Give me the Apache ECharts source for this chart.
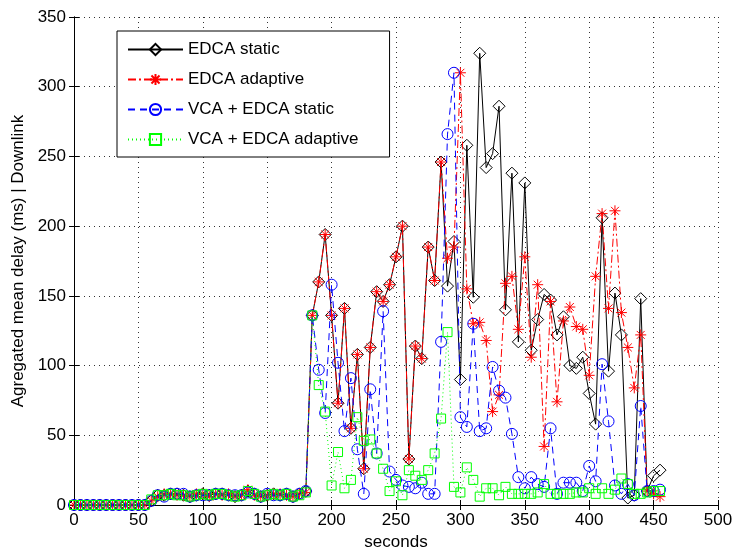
<!DOCTYPE html>
<html>
<head>
<meta charset="utf-8">
<script src="https://cdn.jsdelivr.net/npm/echarts@6/dist/echarts.min.js"></script>
<style>
  html, body { margin: 0; padding: 0; background: #fff; }
  #chart { width: 736px; height: 556px; }
</style>
</head>
<body>
<div id="chart"></div>
<script>
// time axis (seconds)
const seconds = [
  0, 5, 10, 15, 20, 25, 30, 35, 40, 45, 50, 55,
  60, 65, 70, 75, 80, 85, 90, 95, 100, 105, 110, 115, 120, 125, 130, 135, 140, 145, 150, 155, 160, 165, 170, 175, 180,
  185, 190, 195, 200, 205, 210, 215, 220, 225, 230, 235, 240, 245, 250, 255, 260, 265, 270, 275, 280, 285,
  290, 295, 300, 305, 310, 315, 320, 325, 330, 335, 340, 345, 350, 355, 360, 365, 370, 375, 380, 385, 390, 395,
  400, 405, 410, 415, 420, 425, 430, 435, 440, 445, 450, 455
];

const edcaStatic = [
  0, 0, 0, 0, 0, 0, 0, 0, 0, 0, 0, 0,
  3, 7, 7, 8, 8, 7, 6, 7, 8, 7, 8, 8, 7, 6, 7, 10, 8, 6, 7, 8, 7, 8, 6, 8, 10,
  136, 160, 194, 136, 73, 141, 55, 108, 26, 113, 153, 146, 158, 178, 200, 33, 114, 105, 185, 161, 246,
  157, 189, 90, 258, 149, 324, 242, 252, 286, 140, 238, 117, 231, 111, 133, 151, 147, 122, 135, 100,
  98, 106, 80, 58, 206, 96, 152, 122, 5, 7, 148, 10, 21, 25
];

const edcaAdaptive = [
  0, 0, 0, 0, 0, 0, 0, 0, 0, 0, 0, 0,
  3, 6, 8, 8, 7, 7, 6, 8, 8, 6, 8, 7, 8, 6, 7, 11, 7, 6, 7, 8, 8, 7, 6, 8, 9,
  136, 160, 194, 136, 73, 141, 55, 108, 26, 113, 153, 146, 158, 178, 200, 33, 114, 105, 185, 161, 246,
  177, 185, 310, 155, 130, 131, 118, 67, 79, 159, 164, 126, 178, 106, 158, 42, 146, 74, 132, 142,
  128, 126, 93, 164, 209, 141, 211, 138, 113, 84, 122, 10, 8, 6
];

const vcaStatic = [
  0, 0, 0, 0, 0, 0, 0, 0, 0, 0, 0, 0,
  3, 7, 6, 8, 8, 8, 6, 7, 7, 7, 8, 8, 7, 7, 7, 9, 8, 6, 8, 7, 7, 8, 6, 8, 10,
  136, 97, 66, 158, 102, 53, 91, 40, 8, 83, 37, 139, 24, 18, 14, 13, 12, 16, 8, 8, 117,
  266, 310, 63, 56, 130, 53, 55, 99, 82, 77, 51, 20, 12, 20, 15, 13, 55, 8, 16, 16,
  16, 10, 28, 17, 101, 60, 14, 8, 15, 7, 71, 10, 10, 11
];

const vcaAdaptive = [
  0, 0, 0, 0, 0, 0, 0, 0, 0, 0, 0, 0,
  4, 7, 7, 8, 7, 7, 6, 7, 8, 7, 8, 8, 7, 6, 7, 10, 8, 6, 7, 8, 7, 8, 6, 7, 9,
  136, 86, 67, 14, 38, 12, 18, 63, 46, 47, 37, 26, 10, 17, 7, 25, 21, 18, 25, 37, 62,
  124, 13, 9, 27, 18, 6, 12, 12, 7, 13, 8, 8, 8, 8, 9, 15, 8, 8, 8, 8,
  9, 9, 12, 8, 12, 8, 11, 19, 15, 8, 8, 9, 10, 10
];

const seriesNames = ["EDCA static", "EDCA adaptive", "VCA + EDCA static", "VCA + EDCA adaptive"];

const pairs = (ys) => seconds.map((s, i) => [s, ys[i]]);

const font = "Liberation Sans, Arial, sans-serif";
const asterisk = "path://M0,-5L0,5M-5,0L5,0M-3.6,-3.6L3.6,3.6M-3.6,3.6L3.6,-3.6";

const chart = echarts.init(document.getElementById("chart"));

const gridLine = { show: true, lineStyle: { color: "#000", type: [1, 4], width: 1, opacity: 0.8 } };
const tick = { show: true, inside: true, length: 5, lineStyle: { color: "#000" } };

const option = {
  animation: false,
  backgroundColor: "#fff",
  textStyle: { fontFamily: font },
  grid: { left: 74, right: 18, top: 17, bottom: 48 },
  legend: {
    orient: "vertical",
    left: 117,
    top: 31,
    data: seriesNames,
    backgroundColor: "#fff",
    borderColor: "#000",
    borderWidth: 1,
    borderRadius: 0,
    padding: [10, 31, 9, 10],
    itemWidth: 55,
    itemHeight: 14,
    itemGap: 13,
    textStyle: { fontSize: 17, color: "#000", fontFamily: font },
  },
  xAxis: [
    {
      type: "value",
      min: 0,
      max: 500,
      interval: 50,
      name: "seconds",
      nameLocation: "middle",
      nameGap: 29,
      nameTextStyle: { fontSize: 17, color: "#000", fontFamily: font },
      axisLine: { show: true, onZero: false, lineStyle: { color: "#000", width: 1 } },
      axisTick: tick,
      axisLabel: { fontSize: 17, color: "#000", margin: 7, fontFamily: font },
      splitLine: gridLine,
    },
    {
      type: "value",
      position: "top",
      min: 0,
      max: 500,
      interval: 50,
      axisLine: { show: true, lineStyle: { color: "#000", width: 1 } },
      axisTick: tick,
      axisLabel: { show: false },
      splitLine: { show: false },
    },
  ],
  yAxis: [
    {
      type: "value",
      min: 0,
      max: 350,
      interval: 50,
      name: "Agregated mean delay (ms) | Downlink",
      nameLocation: "middle",
      nameGap: 45,
      nameTextStyle: { fontSize: 17, color: "#000", fontFamily: font },
      axisLine: { show: true, onZero: false, lineStyle: { color: "#000", width: 1 } },
      axisTick: tick,
      axisLabel: { fontSize: 17, color: "#000", margin: 8, fontFamily: font },
      splitLine: gridLine,
    },
    {
      type: "value",
      position: "right",
      min: 0,
      max: 350,
      interval: 50,
      axisLine: { show: true, lineStyle: { color: "#000", width: 1 } },
      axisTick: tick,
      axisLabel: { show: false },
      splitLine: { show: false },
    },
  ],
  series: [
    {
      name: seriesNames[0],
      type: "line",
      data: pairs(edcaStatic),
      symbol: "diamond",
      symbolSize: 12,
      showAllSymbol: true,
      z: 2,
      lineStyle: { color: "#000", width: 1 },
      itemStyle: { color: "rgba(255,255,255,0)", borderColor: "#000", borderWidth: 1 },
    },
    {
      name: seriesNames[1],
      type: "line",
      data: pairs(edcaAdaptive),
      symbol: asterisk,
      symbolSize: 11,
      showAllSymbol: true,
      z: 3,
      lineStyle: { color: "#ff0000", width: 1, type: [8, 3, 2, 3] },
      itemStyle: { color: "rgba(255,255,255,0)", borderColor: "#ff0000", borderWidth: 1 },
    },
    {
      name: seriesNames[2],
      type: "line",
      data: pairs(vcaStatic),
      symbol: "circle",
      symbolSize: 11,
      showAllSymbol: true,
      z: 4,
      lineStyle: { color: "#0000ff", width: 1, type: [7, 5] },
      itemStyle: { color: "rgba(255,255,255,0)", borderColor: "#0000ff", borderWidth: 1 },
    },
    {
      name: seriesNames[3],
      type: "line",
      data: pairs(vcaAdaptive),
      symbol: "rect",
      symbolSize: 9,
      showAllSymbol: true,
      z: 5,
      lineStyle: { color: "#00ff00", width: 1, type: [1, 3] },
      itemStyle: { color: "rgba(255,255,255,0)", borderColor: "#00ff00", borderWidth: 1 },
    },
  ],
};

chart.setOption(option);
</script>
</body>
</html>
